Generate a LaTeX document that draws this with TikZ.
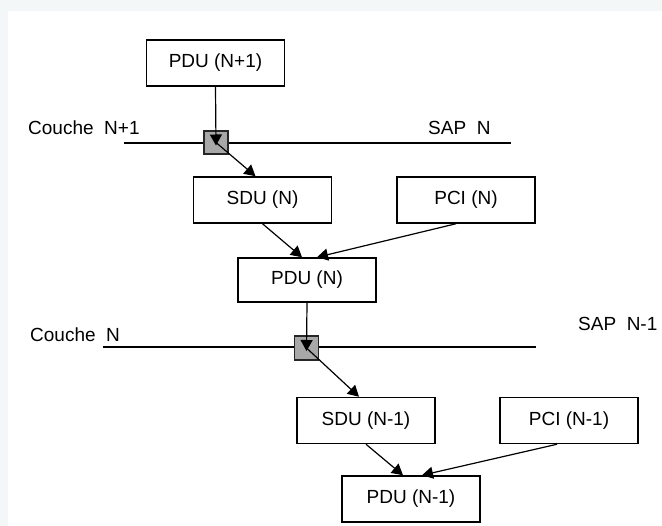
\documentclass[tikz,border=0pt]{standalone}
\usepackage{fontspec}
\setmainfont{Liberation Sans}
\usepackage{tikz}
\usetikzlibrary{arrows.meta}
\definecolor{pagegray}{HTML}{F3F7F7}
\definecolor{sapgray}{HTML}{A8A8A8}
\tikzstyle{pdubox} = [draw=black, line width=1.5pt, fill=white,
    rectangle, minimum width=138pt, minimum height=46pt, inner sep=0pt,
    font=\fontsize{19}{22}\selectfont]
\tikzstyle{sapbox} = [draw=black!85, line width=1.4pt, fill=sapgray,
    rectangle, minimum width=24pt, minimum height=23pt, inner sep=0pt]
\tikzstyle{layertext} = [anchor=west, inner sep=0pt,
    font=\fontsize{19}{22}\selectfont]
\tikzstyle{flow} = [line width=1.2pt, -{Triangle[width=12pt,length=11pt]}]

\begin{document}
\begin{tikzpicture}[x=1pt, y=-1pt]
                \fill[pagegray] (0,0) rectangle (662,526);
                \fill[white] (8,11) rectangle (662,526);
                \useasboundingbox (0,0) rectangle (662,526);
                % layer borders
                \coordinate (layA west) at (124,143);
                \coordinate (layA east) at (511,143);
                \coordinate (layB west) at (103,347);
                \coordinate (layB east) at (536,347);
                \draw[line width=1.5pt] (layA west) -- (layA east);
                \draw[line width=1.5pt] (layB west) -- (layB east);
                \node[layertext] (couchA) at (28,128) {Couche\ \ N+1};
                \node[layertext] (sapNA) at (428,128) {SAP\ \ N};
                \node[layertext] (couchB) at (30,335) {Couche\ \ N};
                \node[layertext] (sapNB) at (578,324) {SAP\ \ N-1};
                % units
                \node[pdubox] (pduA) at (215.5,63) {PDU (N+1)};
                \node[sapbox] (sapA) at (216,142.5) {};
                \node[pdubox] (sduA) at (262.5,200) {SDU (N)};
                \node[pdubox] (pciA) at (466,200) {PCI (N)};
                \node[pdubox, minimum height=44pt] (pduB) at (307,280) {PDU (N)};
                \node[sapbox, minimum height=24pt] (sapB) at (306.5,348) {};
                \node[pdubox] (sduB) at (366,420.5) {SDU (N-1)};
                \node[pdubox] (pciB) at (569,420.5) {PCI (N-1)};
                \node[pdubox] (pduC) at (411,499) {PDU (N-1)};
                % flows
                \draw[flow] (pduA.south) -- ([yshift=-3pt]sapA.center);
                \draw[flow] (sapA.center) -- ([xshift=-7pt]sduA.north);
                \draw[flow] (sduA.south) -- ([xshift=-5pt]pduB.north);
                \draw[flow] ([xshift=-10pt]pciA.south) -- ([xshift=10pt]pduB.north);
                \draw[flow] (pduB.south) -- ([yshift=-3pt]sapB.center);
                \draw[flow] (sapB.center) -- ([xshift=-7pt]sduB.north);
                \draw[flow] (sduB.south) -- ([xshift=-8pt]pduC.north);
                \draw[flow] ([xshift=-12pt]pciB.south) -- ([xshift=11pt]pduC.north);
            \end{tikzpicture}
\end{document}
